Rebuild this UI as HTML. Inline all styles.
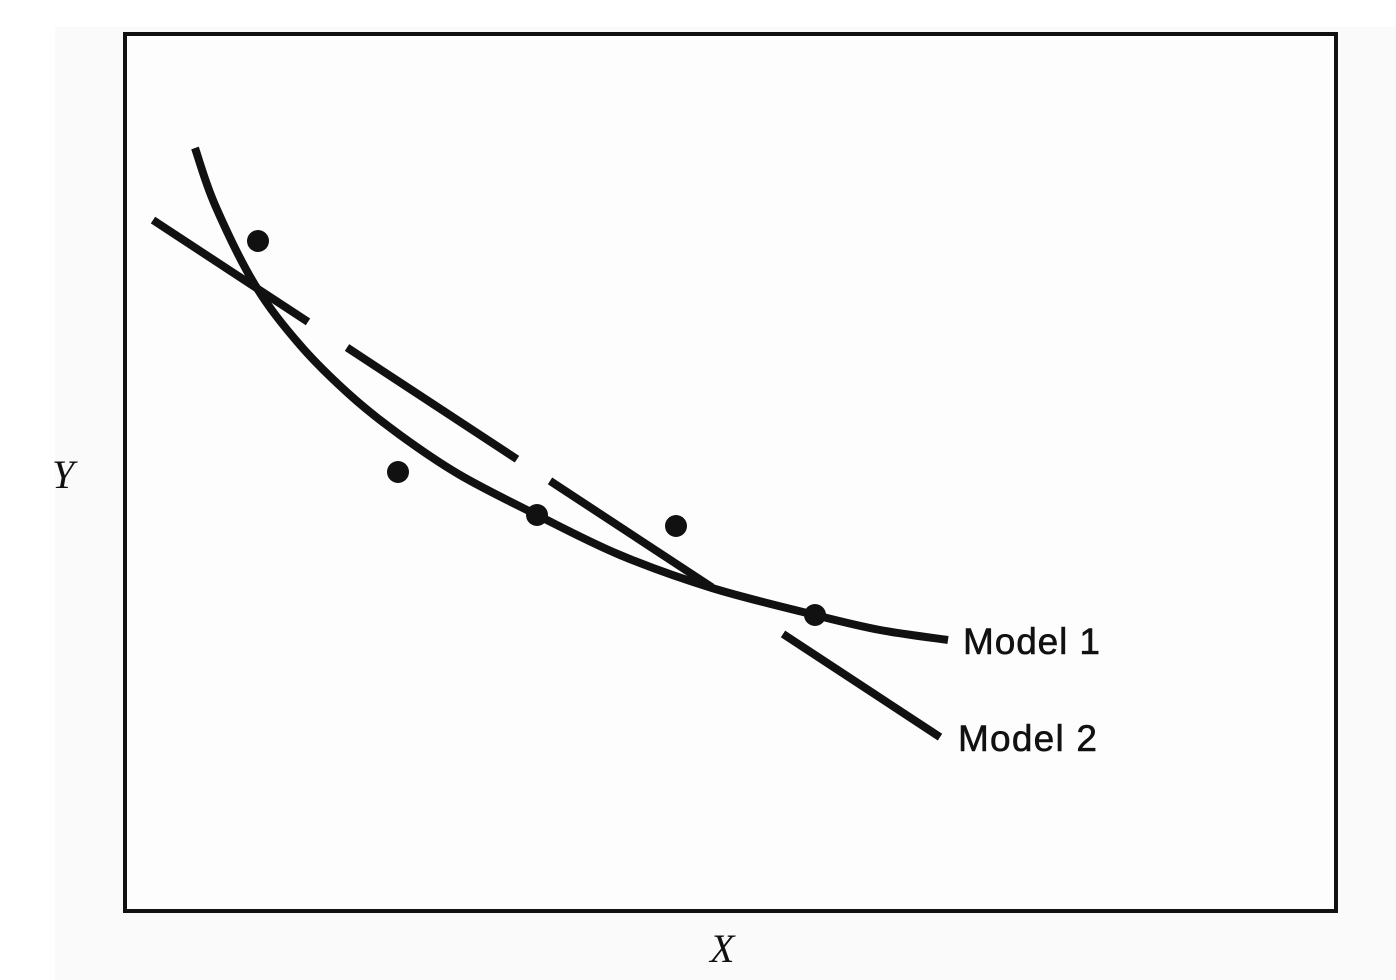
<!DOCTYPE html>
<html><head><meta charset="utf-8"><style>
html,body{margin:0;padding:0;background:#fff;}
svg{display:block;}
</style></head><body>
<svg id="chart" width="1396" height="980" viewBox="0 0 1396 980" xmlns="http://www.w3.org/2000/svg">
<rect x="55" y="27" width="1341" height="953" fill="#fafafa"/>
<rect x="125" y="34" width="1211" height="877" fill="#fdfdfd" stroke="#111" stroke-width="4"/>
<g id="marks"></g>
<text x="52" y="488" font-family="Liberation Serif, serif" font-style="italic" font-size="40" fill="#111">Y</text>
<text x="710" y="962" font-family="Liberation Serif, serif" font-style="italic" font-size="40" fill="#111">X</text>
<text x="963" y="654" font-family="Liberation Sans, sans-serif" font-size="37" textLength="137" fill="#111" stroke="#111" stroke-width="0.6">Model 1</text>
<text x="958" y="751" font-family="Liberation Sans, sans-serif" font-size="37" textLength="139" fill="#111" stroke="#111" stroke-width="0.6">Model 2</text>
</svg>
<script>
// data in plot units (x: 0..1213, y: 0..879 from bottom-left of frame)
const model1X = [71, 91, 131, 176, 226, 276, 336, 413, 496, 588, 691, 756, 824];
const model1Y = [764, 707, 627, 567, 517, 477, 437, 397, 357, 324, 297, 282, 272];
const model2Segments = [[29, 184], [223, 393], [426, 588], [659, 816]];
const model2Intercept = 711;
const model2Slope = -0.657;
const pointsX = [134, 274, 413, 552, 691];
const pointsY = [671, 440, 397, 386, 297];

const x0 = 124, y0 = 912;
function sx(v){ return x0 + v; }
function sy(v){ return y0 - v; }
const NS = 'http://www.w3.org/2000/svg';
const g = document.getElementById('marks');

// smooth Catmull-Rom path through model 1 samples
const P = model1X.map((v,i)=>[sx(v), sy(model1Y[i])]);
let d = 'M' + P[0][0] + ' ' + P[0][1];
for (let i=0;i<P.length-1;i++){
  const p0 = P[i-1] || P[i], p1 = P[i], p2 = P[i+1], p3 = P[i+2] || P[i+1];
  const c1 = [p1[0]+(p2[0]-p0[0])/6, p1[1]+(p2[1]-p0[1])/6];
  const c2 = [p2[0]-(p3[0]-p1[0])/6, p2[1]-(p3[1]-p1[1])/6];
  d += ' C' + c1[0] + ' ' + c1[1] + ' ' + c2[0] + ' ' + c2[1] + ' ' + p2[0] + ' ' + p2[1];
}
const p1 = document.createElementNS(NS,'path');
p1.setAttribute('d', d);
p1.setAttribute('fill','none');
p1.setAttribute('stroke','#111');
p1.setAttribute('stroke-width','8');
p1.setAttribute('stroke-linejoin','round');


g.appendChild(p1);

model2Segments.forEach((s,i)=>{
  const l = document.createElementNS(NS,'line');
  l.setAttribute('x1', sx(s[0]));
  l.setAttribute('y1', sy(model2Intercept + model2Slope*s[0]));
  l.setAttribute('x2', sx(s[1]));
  l.setAttribute('y2', sy(model2Intercept + model2Slope*s[1]));
  l.setAttribute('stroke','#111');
  l.setAttribute('stroke-width','8');
  
  
  g.appendChild(l);
});

pointsX.forEach((v,i)=>{
  const c = document.createElementNS(NS,'circle');
  c.setAttribute('cx', sx(v));
  c.setAttribute('cy', sy(pointsY[i]));
  c.setAttribute('r', 11);
  c.setAttribute('fill','#111');
  
  
  g.appendChild(c);
});
</script>
</body></html>
